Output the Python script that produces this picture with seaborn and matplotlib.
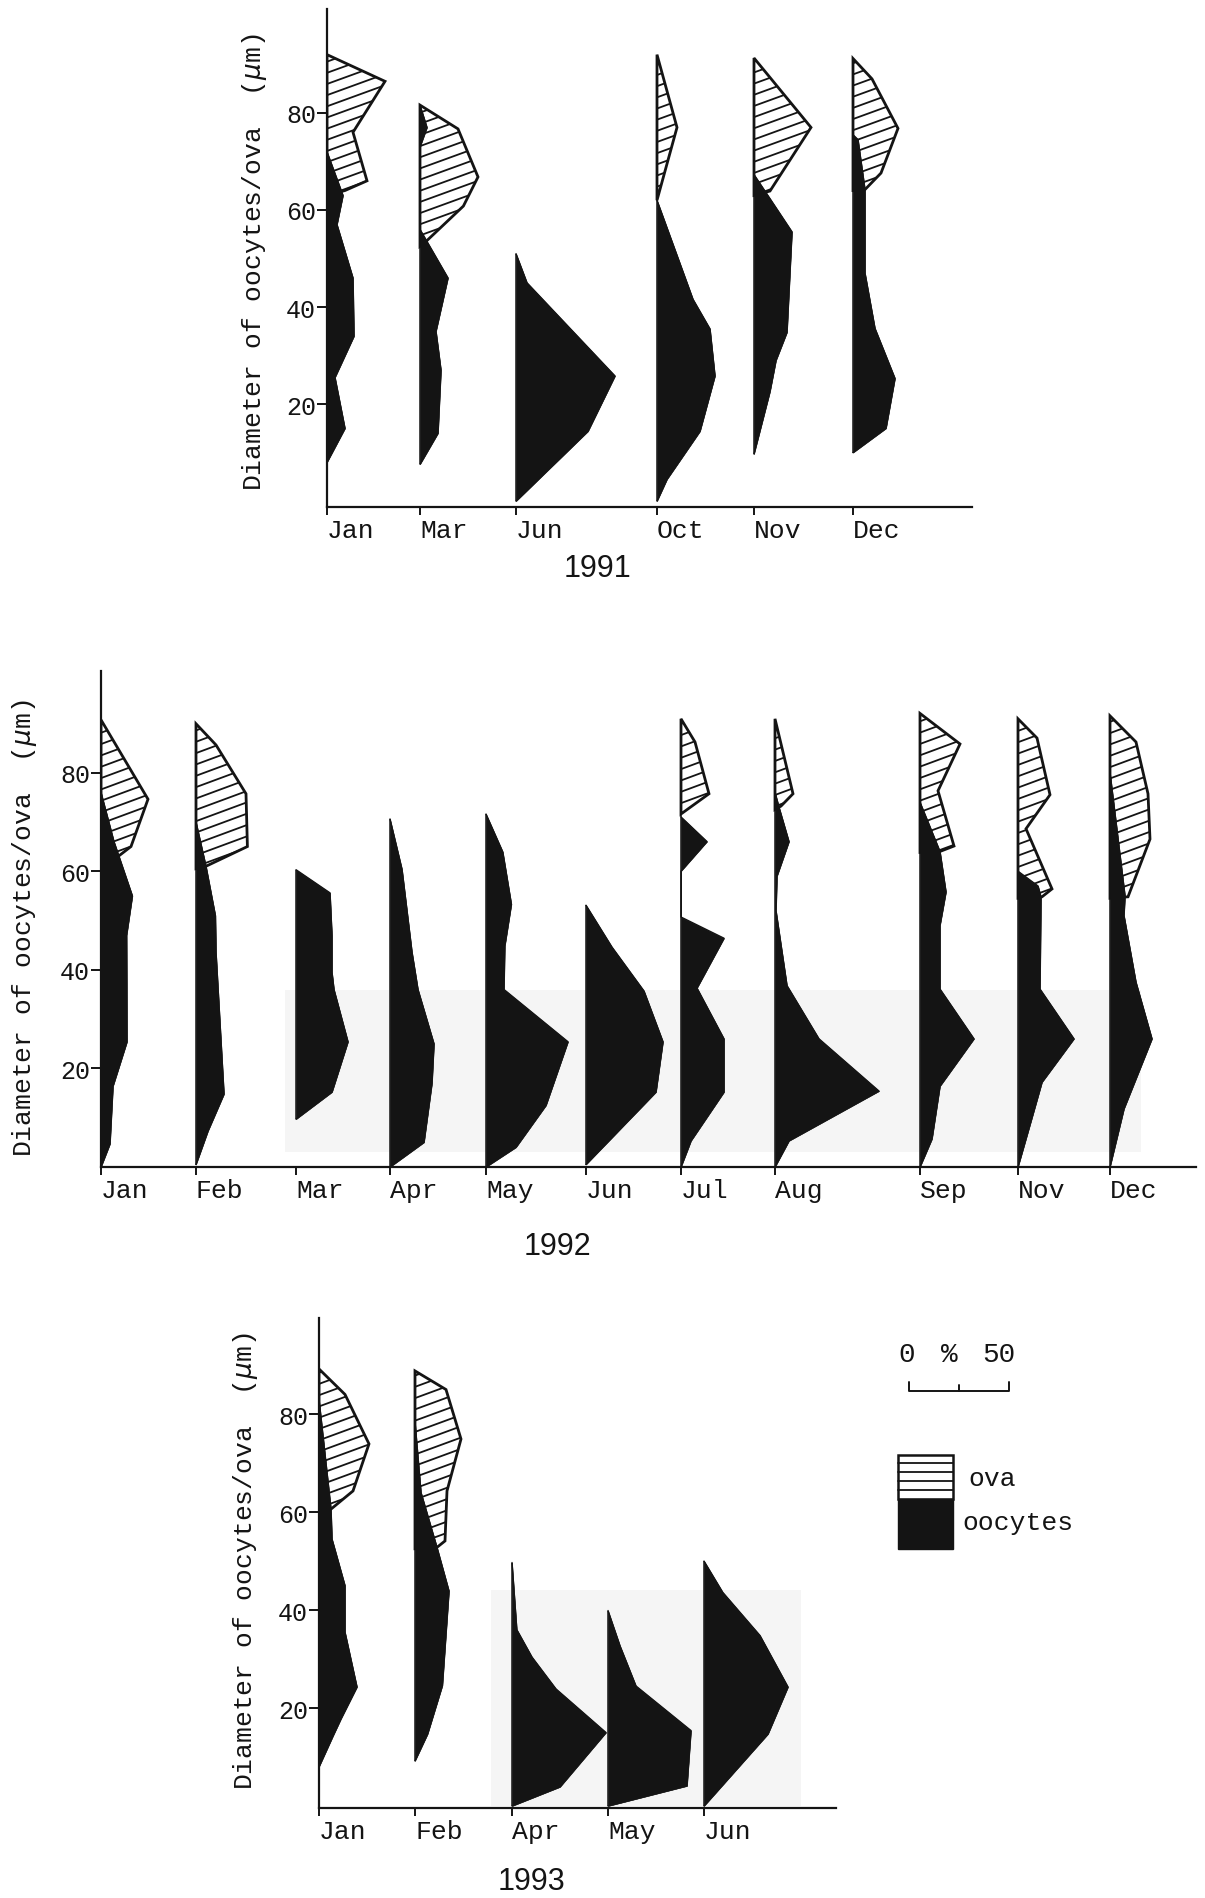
import numpy as np
import pandas as pd
import matplotlib
matplotlib.use("Agg")
import matplotlib.pyplot as plt
import seaborn as sns
from matplotlib.patches import Polygon, Rectangle
from matplotlib.collections import LineCollection
from matplotlib.transforms import ScaledTranslation

# ------------------------------------------------------------------
# DATA: (diameter in um, percentage of individuals)
# ------------------------------------------------------------------
MONTHS_1991 = ["Jan", "Mar", "Jun", "Oct", "Nov", "Dec"]
MONTHS_1992 = ["Jan", "Feb", "Mar", "Apr", "May", "Jun", "Jul", "Aug", "Sep", "Nov", "Dec"]
MONTHS_1993 = ["Jan", "Feb", "Apr", "May", "Jun"]

# 1991
JAN91_OVA = [(92, 0), (86.5, 29), (76, 13), (66, 20), (64, 9), (63, 0)]
JAN91_OOC = [(72, 0), (63, 8), (57, 5), (46, 13), (34, 13.5), (25.5, 4), (15, 9), (8, 0)]
MAR91_OVA = [(81.6, 0), (76.7, 19), (66.8, 29), (60.8, 21.7), (53, 1.7), (52.5, 0)]
MAR91_OOC = [(81.6, 0), (77, 3.5), (73, 0), (56, 0), (46, 14), (35, 8), (27, 10.5), (14, 9), (7.6, 0)]
JUN91_OOC = [(51, 0), (45, 5.5), (25.8, 49.5), (14.4, 36), (0, 0)]
OCT91_OVA = [(92, 0), (77, 10), (62, 0)]
OCT91_OOC = [(62, 0), (41.6, 18), (35.5, 26.5), (25.8, 29), (14.4, 21.5), (4.5, 5), (0, 0)]
NOV91_OVA = [(91.3, 0), (77, 28.5), (63.9, 8), (63, 0)]
NOV91_OOC = [(67.3, 0), (55.5, 19), (34.8, 16.5), (29, 11), (22.6, 8), (9.7, 0)]
DEC91_OVA = [(91.2, 0), (87, 9.5), (76.8, 22.5), (67.6, 14), (64.2, 6), (64, 0)]
DEC91_OOC = [(75.5, 0), (74.5, 2.5), (64.2, 6), (47, 6), (35.6, 11), (25.3, 21), (15, 16.5), (10, 0)]

# 1992
JAN92_OVA = [(90.7, 0), (74.6, 23.5), (65, 15), (62.5, 7), (62, 0)]
JAN92_OOC = [(76, 0), (66, 6.5), (55, 15.7), (47, 12.8), (25.4, 13), (16.4, 6), (4.7, 4.5), (0, 0)]
FEB92_OVA = [(89.9, 0), (85.6, 10), (75.7, 25), (65, 25.7), (61, 5), (60.5, 0)]
FEB92_OOC = [(70, 0), (61, 5), (51, 9.7), (43.6, 10), (14.8, 14), (7.3, 6), (0.5, 0)]
MAR92_OOC = [(60.3, 0), (55.6, 17), (46.9, 18), (39.5, 18), (36, 19), (25.4, 26), (15.2, 18), (9.7, 0)]
APR92_OOC = [(70.6, 0), (60.4, 6), (43.6, 11), (36, 14), (25, 22), (17, 21), (5, 17), (0, 0)]
MAY92_OOC = [(71.6, 0), (63.9, 8.4), (53.3, 12.7), (44.8, 9.4), (36, 9), (25.4, 41), (12.5, 30), (4, 15), (0, 0)]
JUN92_OOC = [(53.1, 0), (44.6, 13), (35.7, 29), (25.4, 38.5), (15.2, 35), (0.5, 0)]
JUL92_OVA = [(90.9, 0), (86.2, 7), (75.7, 14), (71.6, 0)]
JUL92_OOC = [(71, 0), (66, 13), (60, 0), (50.7, 0), (46.4, 21.5), (36.3, 8), (26, 21.5), (15.2, 21.5), (5.3, 5), (0, 0)]
AUG92_OVA = [(90.9, 0), (75.7, 9), (73.2, 3), (72.5, 0)]
AUG92_OOC = [(76, 0), (73, 2), (66, 7), (59, 1), (52, 0.5), (36.8, 6), (26, 22), (15.4, 52), (5.3, 7), (0, 0)]
SEP92_OVA = [(92, 0), (85.8, 20), (76.3, 9), (65.1, 17), (64, 10), (63.8, 0)]
SEP92_OOC = [(74, 0), (64, 10), (55.8, 13), (49, 10), (36.1, 10), (26, 27), (16.4, 10), (5.7, 6), (0, 0)]
NOV92_OVA = [(90.9, 0), (87, 9.5), (75.5, 16), (68.6, 4), (56.4, 17), (54.8, 12), (54.5, 0)]
NOV92_OOC = [(60, 0), (57, 10), (54.8, 11.5), (36.1, 11), (26, 28), (17.2, 12), (10, 7), (0, 0)]
DEC92_OVA = [(91.5, 0), (86.2, 13), (75.7, 19), (66.5, 20), (54.8, 9), (54.5, 0)]
DEC92_OOC = [(80, 0), (55, 7.5), (51, 7), (37.5, 13), (26, 21), (11.8, 7), (0, 0)]

# 1993
JAN93_OVA = [(89.2, 0), (84, 13), (73.9, 25), (64.3, 17), (60.6, 6), (60.3, 0)]
JAN93_OOC = [(83, 0), (60.6, 6), (54.5, 6.5), (45, 13), (35.5, 13), (24.3, 19), (17.8, 11), (14.3, 7), (8, 0)]
FEB93_OVA = [(88.8, 0), (85, 15.5), (74.9, 23), (64.3, 16), (54.1, 15), (52.8, 11), (52.5, 0)]
FEB93_OOC = [(78.4, 0), (64, 3), (52.8, 11), (43.9, 17), (24.6, 13.7), (14.7, 6.3), (9.2, 0)]
APR93_OOC = [(49.7, 0), (36, 2.4), (30.4, 10), (23.9, 22), (15, 47), (3.9, 24), (0, 0)]
MAY93_OOC = [(39.9, 0), (32.7, 6), (24.5, 14), (15.4, 41.5), (4.1, 39.5), (0, 0)]
JUN93_OOC = [(50, 0), (43.6, 9.4), (34.8, 28), (24.3, 42), (14.7, 32), (0, 0)]

YTICKS = [20, 40, 60, 80]
YEARS = ["1991", "1992", "1993"]

# ------------------------------------------------------------------
# LAYOUT (baseline of each monthly profile on the % axis, axes boxes)
# ------------------------------------------------------------------
OFFSETS_1991 = [0, 46.5, 94.5, 165, 213.5, 263]
OFFSETS_1992 = [0, 47.5, 97.5, 144.5, 192.5, 242.5, 290, 337, 409.5, 458.5, 504.5]
OFFSETS_1993 = [0, 48, 96.5, 144.5, 192.5]

W, H = 1205, 1899
BLACK = "#141414"

panels = [
    dict(year=YEARS[0], months=MONTHS_1991, offsets=OFFSETS_1991,
         ova={"Jan": JAN91_OVA, "Mar": MAR91_OVA, "Oct": OCT91_OVA, "Nov": NOV91_OVA, "Dec": DEC91_OVA},
         ooc={"Jan": JAN91_OOC, "Mar": MAR91_OOC, "Jun": JUN91_OOC, "Oct": OCT91_OOC, "Nov": NOV91_OOC, "Dec": DEC91_OOC},
         box_px=(327, 972, 508, 10), ylim=(-1.2, 101.4), xmax=322.5,
         ylab=(-0.113, 0.494), year_px=(597, 569), shade=None),
    dict(year=YEARS[1], months=MONTHS_1992, offsets=OFFSETS_1992,
         ova={"Jan": JAN92_OVA, "Feb": FEB92_OVA, "Jul": JUL92_OVA, "Aug": AUG92_OVA,
              "Sep": SEP92_OVA, "Nov": NOV92_OVA, "Dec": DEC92_OVA},
         ooc={"Jan": JAN92_OOC, "Feb": FEB92_OOC, "Mar": MAR92_OOC, "Apr": APR92_OOC, "May": MAY92_OOC,
              "Jun": JUN92_OOC, "Jul": JUL92_OOC, "Aug": AUG92_OOC, "Sep": SEP92_OOC,
              "Nov": NOV92_OOC, "Dec": DEC92_OOC},
         box_px=(101, 1196, 1168, 672), ylim=(0, 100.6), xmax=547.5,
         ylab=(-0.0703, 0.484), year_px=(557, 1247), shade=(92, 520, 3, 36)),
    dict(year=YEARS[2], months=MONTHS_1993, offsets=OFFSETS_1993,
         ova={"Jan": JAN93_OVA, "Feb": FEB93_OVA},
         ooc={"Jan": JAN93_OOC, "Feb": FEB93_OOC, "Apr": APR93_OOC, "May": MAY93_OOC, "Jun": JUN93_OOC},
         box_px=(319, 836, 1809, 1319), ylim=(-0.4, 99.6), xmax=258.5,
         ylab=(-0.1412, 0.506), year_px=(532, 1882), shade=(86, 241, 0, 44)),
]

sns.set_theme(style="white")
plt.rcParams["font.family"] = ["Liberation Mono", "DejaVu Sans"]
plt.rcParams["mathtext.fontset"] = "dejavusans"

fig = plt.figure(figsize=(W / 100, H / 100), dpi=100)

HATCH_SPACING = 2.3   # diameter units between hatch lines
HATCH_SLOPE = 0.15    # diameter units per % (~20 degrees on the page)


def draw_ova(ax, base, prof):
    d = np.array([q[0] for q in prof], float)
    p = np.array([q[1] for q in prof], float)
    verts = np.column_stack([base + p, d])
    poly = Polygon(verts, closed=True, facecolor="white", edgecolor=BLACK,
                   lw=2.0, zorder=2, joinstyle="miter")
    ax.add_patch(poly)
    pmax = p.max() + 2
    cs = np.arange(d.min() - HATCH_SLOPE * pmax - HATCH_SPACING, d.max() + HATCH_SPACING, HATCH_SPACING)
    segs = [[(base, c), (base + pmax, c + HATCH_SLOPE * pmax)] for c in cs]
    lc = LineCollection(segs, colors=BLACK, linewidths=1.3, zorder=2.5)
    ax.add_collection(lc)
    lc.set_clip_path(poly)


def draw_ooc(ax, base, prof):
    df = pd.DataFrame(prof, columns=["diameter", "pct"])
    df["xpos"] = base + df["pct"]
    ax.fill_betweenx(df["diameter"], base, df["xpos"], facecolor=BLACK, edgecolor=BLACK,
                     lw=0.4, zorder=3)
    sns.lineplot(data=df, x="xpos", y="diameter", orient="y", sort=False, estimator=None,
                 color=BLACK, lw=1.0, ax=ax, zorder=3.2)


for P in panels:
    l, r, b, t = P["box_px"]
    ax = fig.add_axes([l / W, 1 - b / H, (r - l) / W, (b - t) / H])
    ax.set_facecolor("none")
    if P["shade"] is not None:
        x0, x1, y0, y1 = P["shade"]
        ax.add_patch(Rectangle((x0, y0), x1 - x0, y1 - y0, facecolor="#f5f5f5",
                               edgecolor="none", zorder=0))
    for m, base in zip(P["months"], P["offsets"]):
        allprof = []
        if m in P["ova"]:
            allprof += P["ova"][m]
        if m in P["ooc"]:
            allprof += P["ooc"][m]
        ds = [q[0] for q in allprof]
        ax.vlines(base, min(ds), max(ds), colors=BLACK, lw=1.1, zorder=1.5)
        if m in P["ova"]:
            draw_ova(ax, base, P["ova"][m])
        if m in P["ooc"]:
            draw_ooc(ax, base, P["ooc"][m])

    ax.set_xlim(0, P["xmax"])
    ax.set_ylim(*P["ylim"])
    for s in ["top", "right"]:
        ax.spines[s].set_visible(False)
    for s in ["left", "bottom"]:
        ax.spines[s].set_color(BLACK)
        ax.spines[s].set_linewidth(1.6)
    ax.grid(False)
    ax.set_xticks(P["offsets"])
    ax.set_xticklabels(P["months"], fontsize=19, ha="left")
    off = ScaledTranslation(-9 / 100, 0, fig.dpi_scale_trans)
    for lab in ax.get_xticklabels():
        lab.set_transform(lab.get_transform() + off)
    ax.set_yticks(YTICKS)
    ax.set_yticklabels([str(v) for v in YTICKS], fontsize=18)
    ax.tick_params(axis="x", bottom=True, direction="out", length=6, width=1.4,
                   color=BLACK, pad=2, labelcolor=BLACK)
    ax.tick_params(axis="y", left=True, direction="out", length=7, width=1.4,
                   color=BLACK, pad=1, labelcolor=BLACK)
    ax.set_xlabel("")
    ax.set_ylabel("Diameter of oocytes/ova  ($\\mu$m)", fontsize=19, color=BLACK)
    ax.yaxis.set_label_coords(*P["ylab"])
    ax.yaxis.label.set_va("center")
    yx, yy = P["year_px"]
    fig.text(yx / W, 1 - yy / H, P["year"], ha="center", va="center",
             family="Liberation Sans", fontsize=22, color=BLACK)

# ------------------------------------------------------------------
# scale bar and legend (page coordinates in pixels)
# ------------------------------------------------------------------
lg = fig.add_axes([0, 0, 1, 1])
lg.set_xlim(0, W)
lg.set_ylim(H, 0)
lg.axis("off")
lg.set_facecolor("none")
SCALE_PCT = 50
px_per_pct = (972 - 327) / 322.5
x0s, ys = 909, 1392
x1s = x0s + SCALE_PCT * px_per_pct
lg.plot([x0s, x0s, x1s, x1s], [ys - 9, ys, ys, ys - 9], color=BLACK, lw=1.4)
lg.plot([(x0s + x1s) / 2] * 2, [ys, ys - 6], color=BLACK, lw=1.4)
lg.text(x0s - 2, 1355, "0", ha="center", va="center", fontsize=20, color=BLACK)
lg.text((x0s + x1s) / 2 - 10, 1355, "%", ha="center", va="center", fontsize=20, color=BLACK)
lg.text(x1s - 10, 1355, str(SCALE_PCT), ha="center", va="center", fontsize=20, color=BLACK)

lg.add_patch(Rectangle((898, 1456), 55, 44, facecolor="white", edgecolor=BLACK, lw=1.8))
for yy in [1464, 1473, 1482, 1491]:
    lg.plot([898, 953], [yy, yy], color=BLACK, lw=1.3)
lg.add_patch(Rectangle((898, 1500), 55, 50, facecolor=BLACK, edgecolor=BLACK, lw=1))
lg.text(968, 1479, "ova", ha="left", va="center", fontsize=19, color=BLACK)
lg.text(962, 1523, "oocytes", ha="left", va="center", fontsize=19, color=BLACK)

fig.savefig("out.png", dpi=100, facecolor="white")
